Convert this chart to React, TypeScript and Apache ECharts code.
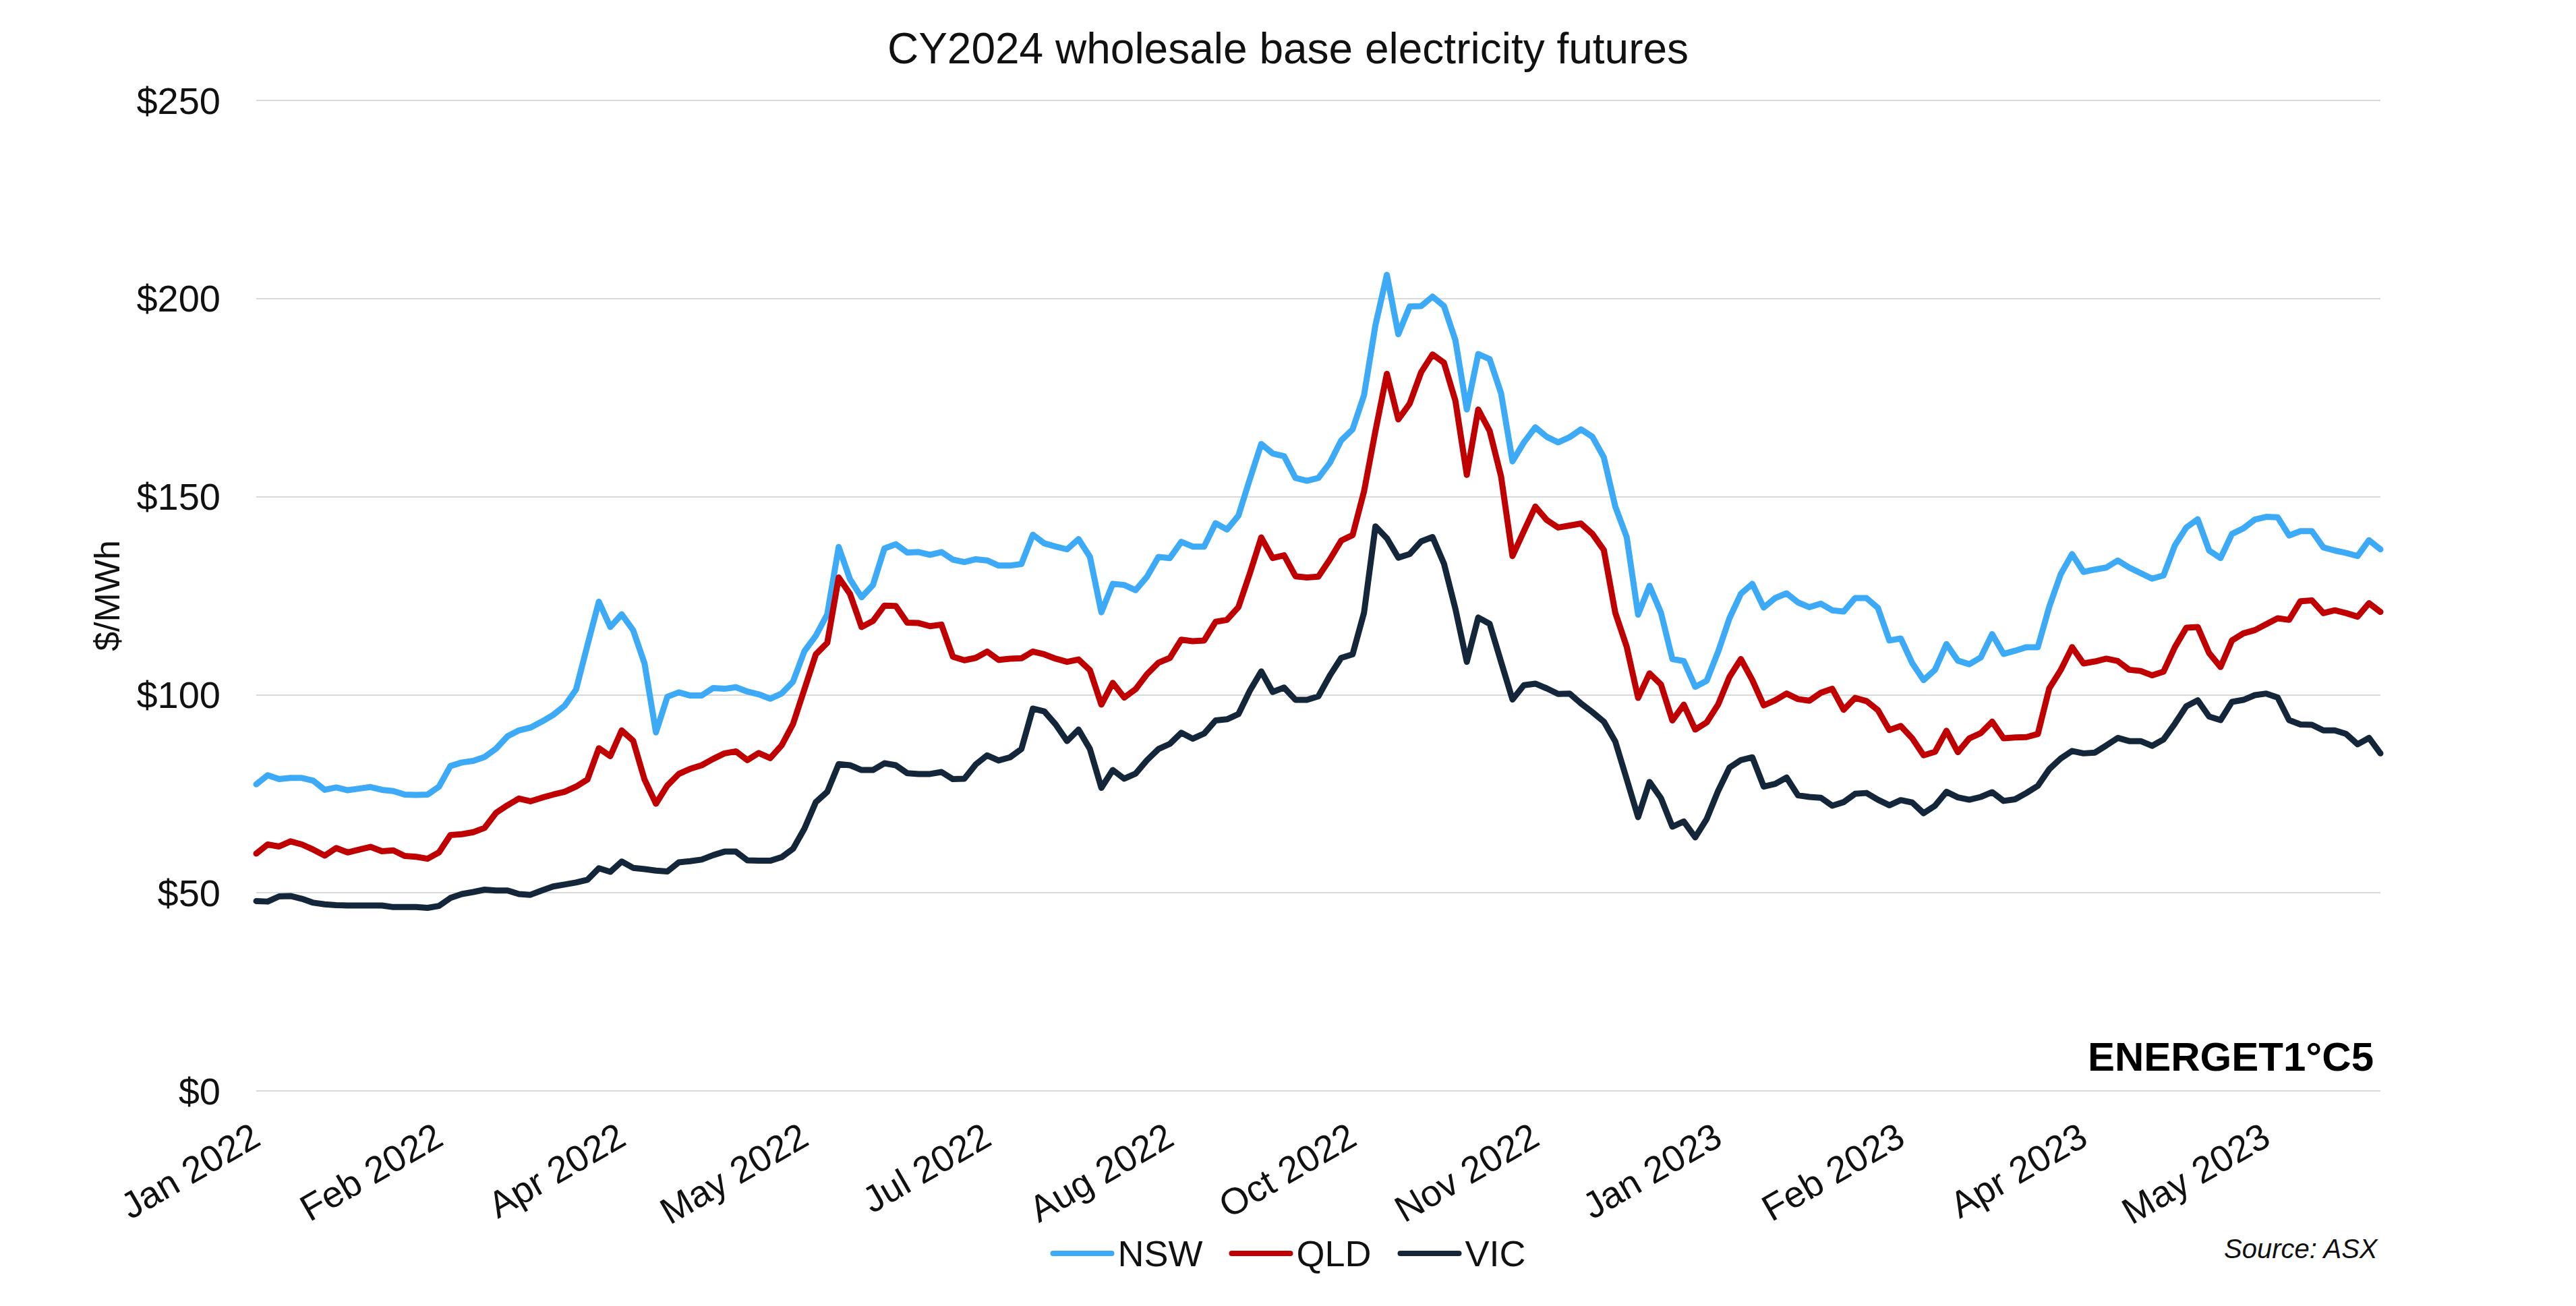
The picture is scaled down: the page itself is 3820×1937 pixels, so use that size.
import React, { useEffect, useRef } from "react";
import * as echarts from "echarts";

// Category axis: one point every second trading day, Jan 2022 – Jun 2023
const tickLabels = [
  "Jan 2022", "Feb 2022", "Apr 2022", "May 2022", "Jul 2022", "Aug 2022",
  "Oct 2022", "Nov 2022", "Jan 2023", "Feb 2023", "Apr 2023", "May 2023",
];
const labelEvery = 16;

const nsw = [
  77.4, 79.7, 78.7, 79.0, 79.0, 78.3, 76.0, 76.6, 75.9, 76.3,
  76.7, 76.0, 75.7, 74.8, 74.7, 74.8, 76.8, 82.0, 82.9, 83.3,
  84.3, 86.4, 89.5, 91.0, 91.7, 93.2, 94.9, 97.2, 101.3, 112.5,
  123.5, 117.1, 120.3, 116.3, 107.9, 90.5, 99.5, 100.6, 99.8, 99.8,
  101.7, 101.5, 101.9, 100.8, 100.1, 99.0, 100.3, 103.3, 111.0, 114.9,
  120.3, 137.3, 129.1, 124.6, 127.7, 136.9, 138.0, 135.9, 136.0, 135.3,
  136.0, 134.1, 133.5, 134.2, 133.9, 132.6, 132.6, 133.0, 140.4, 138.2,
  137.4, 136.7, 139.3, 134.8, 120.8, 128.0, 127.7, 126.4, 129.8, 134.8,
  134.5, 138.6, 137.4, 137.4, 143.3, 141.7, 145.2, 154.4, 163.3, 160.9,
  160.2, 154.7, 154.0, 154.7, 158.5, 164.2, 167.0, 175.6, 193.3, 206.0,
  191.0, 198.0, 198.1, 200.5, 198.1, 189.5, 172.0, 186.0, 184.7, 176.1,
  158.9, 163.7, 167.5, 165.1, 163.7, 165.0, 167.0, 165.1, 159.9, 147.5,
  139.8, 120.2, 127.5, 120.7, 109.0, 108.5, 102.0, 103.5, 110.8, 119.3,
  125.5, 128.0, 122.0, 124.4, 125.6, 123.3, 122.1, 123.0, 121.3, 121.0,
  124.4, 124.4, 121.9, 113.7, 114.2, 108.0, 103.7, 106.3, 112.8, 108.6,
  107.7, 109.4, 115.3, 110.3, 111.1, 112.0, 112.0, 122.2, 130.4, 135.5,
  131.0, 131.6, 132.1, 133.9, 132.1, 130.7, 129.3, 130.1, 137.7, 142.2,
  144.3, 136.4, 134.5, 140.6, 142.0, 144.2, 144.9, 144.8, 140.2, 141.3,
  141.3, 137.2, 136.4, 135.8, 135.0, 139.0, 136.7,
];

const qld = [
  59.9, 62.2, 61.7, 63.0, 62.2, 60.9, 59.4, 61.3, 60.2, 60.9,
  61.6, 60.5, 60.7, 59.3, 59.1, 58.6, 60.2, 64.6, 64.8, 65.3,
  66.4, 70.2, 72.1, 73.8, 73.1, 74.0, 74.8, 75.5, 76.8, 78.6,
  86.5, 84.5, 91.0, 88.4, 78.6, 72.5, 77.1, 80.0, 81.3, 82.2,
  83.8, 85.2, 85.7, 83.5, 85.3, 84.0, 87.2, 92.6, 101.4, 110.2,
  113.1, 129.6, 125.4, 117.1, 118.6, 122.5, 122.4, 118.2, 118.1, 117.3,
  117.7, 109.6, 108.7, 109.3, 110.9, 108.8, 109.1, 109.2, 110.9, 110.2,
  109.1, 108.3, 108.9, 106.2, 97.5, 103.0, 99.3, 101.4, 105.2, 108.1,
  109.3, 113.9, 113.5, 113.7, 118.4, 118.9, 122.1, 130.6, 139.7, 134.5,
  135.2, 129.9, 129.6, 129.8, 134.1, 138.9, 140.3, 151.3, 166.6, 181.0,
  169.5, 173.5, 181.4, 185.9, 183.8, 174.2, 155.5, 172.0, 166.6, 155.1,
  135.0, 141.3, 147.5, 144.1, 142.2, 142.7, 143.2, 140.6, 136.5, 120.7,
  112.1, 99.2, 105.4, 102.6, 93.5, 97.5, 91.2, 93.0, 97.5, 104.5,
  109.0, 103.7, 97.3, 98.6, 100.3, 98.9, 98.5, 100.5, 101.5, 96.2,
  99.2, 98.4, 96.1, 91.1, 92.1, 89.0, 84.7, 85.6, 90.9, 85.5,
  89.0, 90.3, 93.2, 89.0, 89.2, 89.3, 90.1, 101.6, 106.2, 112.0,
  107.9, 108.4, 109.1, 108.5, 106.3, 106.0, 104.9, 105.8, 112.0, 116.9,
  117.1, 110.5, 107.0, 113.7, 115.5, 116.3, 117.8, 119.3, 118.9, 123.6,
  123.8, 120.6, 121.3, 120.6, 119.7, 123.1, 120.9,
];

const vic = [
  47.9, 47.8, 49.1, 49.2, 48.5, 47.5, 47.1, 46.9, 46.8, 46.8,
  46.8, 46.8, 46.4, 46.4, 46.4, 46.2, 46.7, 48.7, 49.7, 50.2,
  50.8, 50.6, 50.6, 49.7, 49.5, 50.6, 51.6, 52.1, 52.6, 53.3,
  56.2, 55.3, 57.9, 56.3, 56.0, 55.6, 55.4, 57.7, 58.0, 58.4,
  59.5, 60.4, 60.4, 58.2, 58.1, 58.1, 59.0, 61.1, 66.2, 72.9,
  75.5, 82.5, 82.2, 81.0, 81.0, 82.7, 82.2, 80.2, 80.0, 80.0,
  80.5, 78.7, 78.8, 82.4, 84.7, 83.4, 84.2, 86.3, 96.5, 95.8,
  92.5, 88.3, 91.2, 86.3, 76.5, 81.0, 78.8, 80.1, 83.5, 86.3,
  87.6, 90.4, 88.9, 90.2, 93.5, 93.8, 95.1, 101.0, 105.9, 100.7,
  101.8, 98.7, 98.7, 99.6, 104.8, 109.3, 110.2, 120.7, 142.5, 139.5,
  134.6, 135.5, 138.7, 139.8, 133.1, 121.7, 108.3, 119.5, 117.9, 108.3,
  98.8, 102.4, 102.8, 101.6, 100.2, 100.3, 97.8, 95.6, 93.2, 88.2,
  78.7, 69.1, 78.0, 73.9, 66.7, 68.0, 64.0, 68.6, 75.7, 81.6,
  83.5, 84.2, 76.8, 77.5, 79.1, 74.6, 74.2, 74.0, 72.0, 72.9,
  75.0, 75.2, 73.5, 72.1, 73.4, 72.8, 70.1, 72.0, 75.5, 74.1,
  73.5, 74.2, 75.4, 73.2, 73.6, 75.2, 77.0, 81.2, 83.9, 85.8,
  85.2, 85.4, 87.2, 89.1, 88.3, 88.3, 87.1, 88.7, 92.7, 97.1,
  98.6, 94.5, 93.6, 98.2, 98.7, 99.9, 100.3, 99.3, 93.6, 92.5,
  92.4, 91.0, 91.0, 90.1, 87.5, 89.1, 85.2,
];

const categories = nsw.map((_, i) => String(i));

const FONT = "'Liberation Sans', Arial, Helvetica, sans-serif";
const TEXT = "#111111";
const COLORS = { NSW: "#3DAAF7", QLD: "#C00000", VIC: "#13263A" };

export default function App() {
  const ref = useRef<HTMLDivElement>(null);

  useEffect(() => {
    if (!ref.current) return;
    const chart = echarts.init(ref.current, null, { renderer: "svg" });
    const capsule = "path://M4,0 L91,0 A4,4 0 0 1 91,8 L4,8 A4,4 0 0 1 4,0 Z";
    const mkSeries = (name: string, data: number[], color: string) => ({
      name,
      type: "line",
      data,
      symbol: "none",
      smooth: false,
      color,
      lineStyle: { color, width: 9, cap: "round", join: "round" },
    });
    chart.setOption({
      animation: false,
      backgroundColor: "#ffffff",
      textStyle: { fontFamily: FONT, color: TEXT },
      title: {
        text: "CY2024 wholesale base electricity futures",
        left: "center",
        top: 40,
        padding: 0,
        textStyle: { fontSize: 64, fontWeight: "normal", color: TEXT, fontFamily: FONT },
      },
      grid: { left: 380, right: 290, top: 149, bottom: 319, containLabel: false },
      legend: {
        data: [
          { name: "NSW", icon: capsule },
          { name: "QLD", icon: capsule },
          { name: "VIC", icon: capsule },
        ],
        left: "center",
        top: 1832,
        itemWidth: 95,
        itemHeight: 9,
        itemGap: 39,
        padding: 0,
        textStyle: { fontSize: 54, color: TEXT, fontFamily: FONT },
      },
      xAxis: {
        type: "category",
        boundaryGap: false,
        data: categories,
        axisLine: { show: false },
        axisTick: { show: false },
        splitLine: { show: false },
        axisLabel: {
          interval: (idx: number) => idx % labelEvery === 0,
          rotate: 30,
          margin: 62,
          fontSize: 55,
          color: TEXT,
          fontFamily: FONT,
          hideOverlap: false,
          formatter: (_v: string, idx: number) =>
            idx % labelEvery === 0 ? tickLabels[idx / labelEvery] ?? "" : "",
        },
      },
      yAxis: {
        type: "value",
        min: 0,
        max: 250,
        interval: 50,
        name: "$/MWh",
        nameLocation: "middle",
        nameGap: 195,
        nameRotate: 90,
        nameTextStyle: { fontSize: 52, color: TEXT, fontFamily: FONT },
        axisLine: { show: false },
        axisTick: { show: false },
        splitLine: { lineStyle: { color: "#d9d9d9", width: 2 } },
        axisLabel: {
          margin: 53,
          fontSize: 56,
          color: TEXT,
          fontFamily: FONT,
          formatter: (v: number) => "$" + v,
        },
      },
      series: [
        mkSeries("NSW", nsw, COLORS.NSW),
        mkSeries("QLD", qld, COLORS.QLD),
        mkSeries("VIC", vic, COLORS.VIC),
      ],
      graphic: [
        {
          type: "text",
          right: 300,
          top: 1537,
          style: {
            text: "ENERGET1°C5",
            font: `bold 60px ${FONT}`,
            fill: "#000000",
          },
        },
        {
          type: "text",
          right: 293,
          top: 1832,
          style: {
            text: "Source: ASX",
            font: `italic 40px ${FONT}`,
            fill: TEXT,
          },
        },
      ],
    });
    return () => chart.dispose();
  }, []);

  return (
    <div
      ref={ref}
      style={{ position: "fixed", left: 0, top: 0, width: 3820, height: 1937, background: "#ffffff" }}
    />
  );
}
